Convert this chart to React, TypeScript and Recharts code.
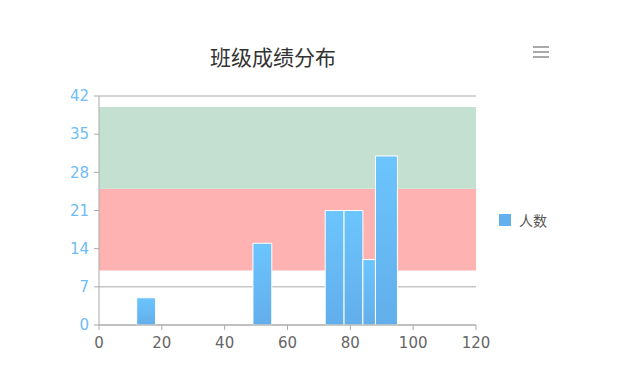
import { ComposedChart, XAxis, YAxis, CartesianGrid, ReferenceArea } from 'recharts'

const binStart = [12, 49, 72, 78, 84, 88]
const binEnd = [18, 55, 78, 84, 88, 95]
const counts = [5, 15, 21, 21, 12, 31]

const bandFrom = [10, 25]
const bandTo = [25, 40]
const bandColors = ['#ffb2b2', '#c3e0d0']

const yTicks = [0, 7, 14, 21, 28, 35, 42]
const xTicks = [0, 20, 40, 60, 80, 100, 120]

const seriesName = '人数'

const bins = binStart.map((s, i) => ({ start: s, end: binEnd[i], count: counts[i] }))

export default function App() {
  return (
    <div style={{ position: 'absolute', left: 0, top: 0, width: 620, height: 383, fontFamily: '"Noto Sans CJK SC", "DejaVu Sans", sans-serif' }}>
      <div style={{ position: 'absolute', left: 173, top: 41, width: 200, textAlign: 'center', fontSize: 21, color: '#333' }}>
        班级成绩分布
      </div>
      <div style={{ position: 'absolute', left: 533, top: 46, width: 16 }}>
        {[0, 1, 2].map((i) => (
          <div key={i} style={{ height: 2, background: '#aaa', marginBottom: 3 }} />
        ))}
      </div>
      <div style={{ position: 'absolute', left: 499, top: 210, display: 'flex', alignItems: 'center', fontSize: 14, color: '#555' }}>
        <span style={{ width: 12, height: 12, background: '#62b0ec', display: 'inline-block', marginRight: 8 }} />
        {seriesName}
      </div>
      <ComposedChart width={620} height={383} data={bins} margin={{ top: 96, right: 144, bottom: 28, left: 59 }}>
        <defs>
          <linearGradient id="barFill" x1="0" y1="0" x2="0" y2="1">
            <stop offset="0%" stopColor="#6cc5fd" />
            <stop offset="100%" stopColor="#62aeea" />
          </linearGradient>
        </defs>
        {bandFrom.map((f, i) => (
          <ReferenceArea key={'band' + i} x1={0} x2={120} y1={f} y2={bandTo[i]} fill={bandColors[i]} fillOpacity={1} stroke="none" />
        ))}
        <CartesianGrid horizontal vertical={false} stroke="#aaa" />
        <XAxis
          type="number"
          dataKey="start"
          domain={[0, 120]}
          ticks={xTicks}
          height={30}
          allowDataOverflow
          stroke="#aaa"
          tick={{ fill: '#666', fontSize: 15, fontFamily: 'DejaVu Sans' }}
          tickSize={5}
          tickMargin={7}
        />
        <YAxis
          type="number"
          domain={[0, 42]}
          ticks={yTicks}
          width={40}
          allowDataOverflow
          stroke="#aaa"
          tick={{ fill: '#6fbdf7', fontSize: 15, fontFamily: 'DejaVu Sans' }}
          tickSize={5}
          tickMargin={5}
        />
        {bins.map((b, i) => (
          <ReferenceArea key={'bin' + i} x1={b.start} x2={b.end} y1={0} y2={b.count} fill="url(#barFill)" fillOpacity={1} stroke="#fff" strokeWidth={1} />
        ))}
      </ComposedChart>
    </div>
  )
}
